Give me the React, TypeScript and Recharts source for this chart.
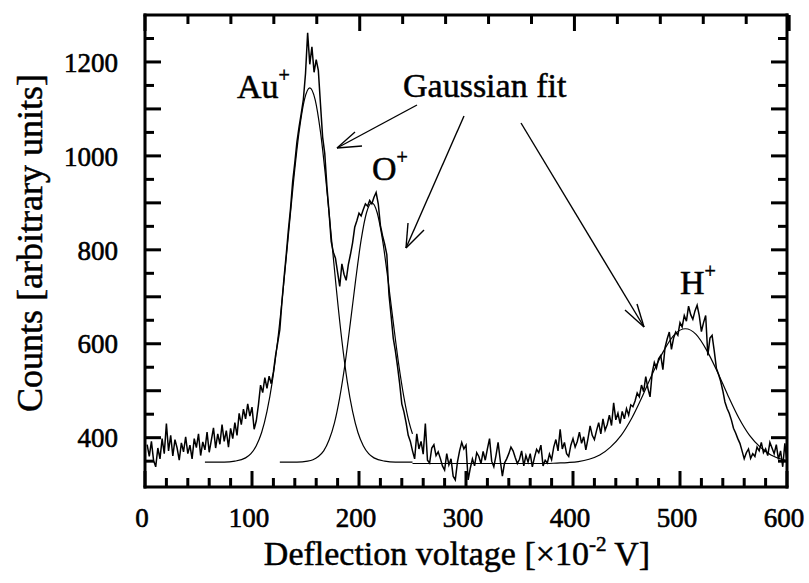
import React from "react";
import { Line, LineChart, XAxis, YAxis } from "recharts";

const WIDTH = 809;
const HEIGHT = 583;
const FONT = "Liberation Serif, Times New Roman, serif";

// measured spectrum, one value per channel; channels every 2 (x10^-2 V) from 2
const channelStart = 2;
const channelStep = 2;
const counts = [
  385, 360, 392, 352, 338, 378, 355, 398, 366, 430, // 2-20
  372, 405, 361, 396, 378, 352, 389, 370, 402, 366, // 22-40
  384, 355, 398, 379, 408, 362, 391, 374, 412, 369, // 42-60
  395, 421, 378, 408, 386, 428, 392, 415, 380, 420, // 62-80
  398, 432, 405, 452, 428, 461, 440, 472, 446, 465, // 82-100
  418, 436, 470, 512, 496, 528, 505, 531, 515, 540, // 102-120
  575, 602, 630, 690, 742, 790, 842, 888, 945, 985, // 122-140
  1030, 1062, 1090, 1120, 1175, 1262, 1195, 1232, 1178, 1205, // 142-160
  1182, 1110, 1040, 1005, 935, 880, 818, 795, 782, 752, // 162-180
  722, 770, 748, 735, 768, 790, 815, 848, 862, 878, // 182-200
  872, 886, 898, 893, 905, 898, 912, 922, 898, 852, // 202-220
  830, 812, 790, 705, 660, 612, 585, 552, 515, 472, // 222-240
  455, 432, 405, 392, 372, 355, 408, 376, 392, 365, // 242-260
  430, 352, 346, 378, 385, 362, 370, 356, 340, 331, // 262-280
  366, 342, 355, 318, 310, 348, 372, 390, 376, 384, // 282-300
  310, 335, 355, 340, 368, 360, 345, 371, 352, 376, // 302-320
  398, 350, 338, 362, 390, 352, 318, 346, 355, 366, // 322-340
  380, 372, 358, 345, 354, 372, 340, 362, 348, 366, // 342-360
  338, 358, 375, 368, 384, 340, 352, 346, 365, 353, // 362-380
  380, 396, 372, 418, 376, 390, 366, 360, 384, 398, // 382-400
  380, 392, 412, 388, 402, 374, 398, 425, 405, 396, // 402-420
  415, 432, 408, 440, 416, 428, 448, 426, 474, 438, // 422-440
  452, 430, 456, 440, 462, 448, 470, 466, 478, 495, // 442-460
  487, 512, 498, 530, 505, 487, 538, 560, 548, 568, // 462-480
  575, 545, 592, 610, 625, 588, 612, 625, 618, 645, // 482-500
  636, 660, 648, 680, 662, 652, 670, 682, 660, 626, // 502-520
  645, 660, 575, 612, 618, 585, 548, 535, 520, 500, // 522-540
  476, 462, 452, 438, 420, 410, 398, 388, 372, 355, // 542-560
  368, 376, 356, 366, 360, 380, 372, 390, 368, 376, // 562-580
  362, 390, 378, 366, 385, 354, 372, 338, 388, 345, // 582-600
];

// Gaussian fit curves
const auFitVoltage = [56, 64, 74, 84, 94, 99, 104, 109, 114, 119, 124, 129, 134, 139, 144, 149, 154,
  159, 164, 169, 174, 179, 184, 189, 194, 199, 204, 209, 214, 224, 234, 250];
const auFitCounts = [348, 348, 348, 350, 357, 366, 383, 411, 456, 520, 607, 713, 831, 950, 1051, 1120, 1145,
  1120, 1051, 950, 831, 713, 607, 520, 456, 411, 383, 366, 357, 350, 348, 348];

const oFitVoltage = [126, 142, 152, 157, 162, 167, 172, 177, 182, 187, 192, 197, 202, 207, 212,
  217, 222, 227, 232, 237, 242, 247, 250];
const oFitCounts = [348, 348, 350, 353, 360, 372, 395, 431, 486, 558, 646, 738, 821, 879, 900,
  879, 821, 738, 646, 558, 486, 431, 408];

const hFitVoltage = [250, 330, 375, 385, 395, 405, 415, 425, 435, 445, 455, 465, 475, 485, 495, 505,
  515, 525, 535, 545, 555, 565, 575, 585, 595, 600];
const hFitCounts = [345, 345, 345, 346, 347, 349, 354, 363, 380, 405, 442, 489, 540, 586, 620, 632,
  620, 586, 540, 489, 442, 405, 380, 363, 354, 351];

const xTicks = [0, 20, 40, 60, 80, 100, 120, 140, 160, 180, 200, 220, 240, 260, 280, 300,
  320, 340, 360, 380, 400, 420, 440, 460, 480, 500, 520, 540, 560, 580, 600];
const xLabelled = [0, 100, 200, 300, 400, 500, 600];
const yTicks = [350, 400, 450, 500, 550, 600, 650, 700, 750, 800, 850, 900, 950, 1000,
  1050, 1100, 1150, 1200, 1250];
const yLabelled = [400, 600, 800, 1000, 1200];

const spectrum = counts.map((c, i) => ({ v: channelStart + i * channelStep, counts: c }));
const zip = (vs: number[], cs: number[]) => vs.map((v, i) => ({ v, fit: cs[i] }));
const auFit = zip(auFitVoltage, auFitCounts);
const oFit = zip(oFitVoltage, oFitCounts);
const hFit = zip(hFitVoltage, hFitCounts);

const MAJOR = 16;
const MINOR = 9;
const axisLine = { stroke: "#000", strokeWidth: 3, strokeLinecap: "square" as const };

// the scanned original has heavy type; a hairline stroke thickens the glyphs a little
function TickLabel({ x, y, anchor, dy, value }: any) {
  return (
    <text
      x={x}
      y={y}
      dy={dy}
      textAnchor={anchor}
      fontFamily={FONT}
      fontSize={27}
      fill="#000"
      stroke="#000"
      strokeWidth={0.6}
    >
      {value}
    </text>
  );
}

function BottomTick({ x, y, payload }: any) {
  const major = payload.value % 100 === 0;
  return (
    <g>
      <line x1={x} x2={x} y1={y} y2={y - (major ? MAJOR : MINOR)} stroke="#000" strokeWidth={3} />
      {xLabelled.includes(payload.value) && (
        <TickLabel x={x - 3} y={y + 40} anchor="middle" value={payload.value} />
      )}
    </g>
  );
}

function TopTick({ x, y, payload }: any) {
  const major = payload.value % 100 === 0;
  return <line x1={x} x2={x} y1={y} y2={y + (major ? MAJOR : MINOR)} stroke="#000" strokeWidth={3} />;
}

function LeftTick({ x, y, payload }: any) {
  const major = payload.value % 100 === 0;
  return (
    <g>
      <line x1={x} x2={x + (major ? MAJOR : MINOR)} y1={y} y2={y} stroke="#000" strokeWidth={3} />
      {yLabelled.includes(payload.value) && (
        <TickLabel x={x - 27} y={y} dy="0.36em" anchor="end" value={payload.value} />
      )}
    </g>
  );
}

function RightTick({ x, y, payload }: any) {
  const major = payload.value % 100 === 0;
  return <line x1={x} x2={x - (major ? MAJOR : MINOR)} y1={y} y2={y} stroke="#000" strokeWidth={3} />;
}

function Arrow({ from, to, arms }: { from: number[]; to: number[]; arms: number[][] }) {
  return (
    <g stroke="#000" strokeWidth={1.4} fill="none">
      <line x1={from[0]} y1={from[1]} x2={to[0]} y2={to[1]} />
      {arms.map((a, i) => (
        <line key={i} x1={to[0]} y1={to[1]} x2={a[0]} y2={a[1]} />
      ))}
    </g>
  );
}

function Overlay() {
  const sup = { fontSize: 20 };
  return (
    <svg
      width={WIDTH}
      height={HEIGHT}
      style={{ position: "absolute", left: 0, top: 0, pointerEvents: "none", fontFamily: FONT }}
      fill="#000"
      stroke="#000"
      strokeWidth={0.5}
    >
      <text transform="translate(42,243) rotate(-90)" textAnchor="middle" fontSize={36}>
        Counts [arbitrary units]
      </text>
      <text x={457} y={565} textAnchor="middle" fontSize={34}>
        Deflection voltage [×10<tspan dy={-14} fontSize={21}>-2</tspan>
        <tspan dy={14}> V]</tspan>
      </text>

      <text x={237} y={98} fontSize={34}>
        Au<tspan dy={-16} {...sup}>+</tspan>
      </text>
      <text x={372} y={180} fontSize={34}>
        O<tspan dy={-16} {...sup}>+</tspan>
      </text>
      <text x={680} y={294} fontSize={34}>
        H<tspan dy={-16} {...sup}>+</tspan>
      </text>
      <text x={403} y={97} fontSize={34}>
        Gaussian fit
      </text>

      <Arrow from={[417, 105]} to={[337, 148]} arms={[[355, 132], [362, 146]]} />
      <Arrow from={[464, 116]} to={[406, 248]} arms={[[408, 223], [424, 230]]} />
      <Arrow from={[521, 123]} to={[644, 327]} arms={[[625, 310], [637, 304]]} />
    </svg>
  );
}

export default function App() {
  return (
    <div style={{ position: "absolute", left: 0, top: 0, width: WIDTH, height: HEIGHT, background: "#fff", fontFamily: FONT }}>
      <LineChart width={WIDTH} height={HEIGHT} data={spectrum} margin={{ top: 0, right: 0, bottom: 0, left: 0 }}>
        <XAxis
          dataKey="v"
          type="number"
          domain={[0, 600]}
          ticks={xTicks}
          interval={0}
          height={96}
          tickSize={0}
          tickMargin={0}
          axisLine={axisLine}
          tick={BottomTick}
          allowDataOverflow
        />
        <XAxis
          xAxisId="top"
          orientation="top"
          type="number"
          domain={[0, 600]}
          ticks={xTicks}
          interval={0}
          height={15}
          tickSize={0}
          tickMargin={0}
          axisLine={axisLine}
          tick={TopTick}
          allowDataOverflow
        />
        <YAxis
          type="number"
          domain={[295, 1300]}
          ticks={yTicks}
          interval={0}
          width={145}
          tickSize={0}
          tickMargin={0}
          axisLine={axisLine}
          tick={LeftTick}
          allowDataOverflow
        />
        <YAxis
          yAxisId="right"
          orientation="right"
          type="number"
          domain={[295, 1300]}
          ticks={yTicks}
          interval={0}
          width={22}
          tickSize={0}
          tickMargin={0}
          axisLine={axisLine}
          tick={RightTick}
          allowDataOverflow
        />
        <Line dataKey="counts" stroke="#000" strokeWidth={1.5} dot={false} type="linear" isAnimationActive={false} />
        <Line data={auFit} dataKey="fit" stroke="#000" strokeWidth={1.2} dot={false} type="monotone" isAnimationActive={false} />
        <Line data={oFit} dataKey="fit" stroke="#000" strokeWidth={1.2} dot={false} type="monotone" isAnimationActive={false} />
        <Line data={hFit} dataKey="fit" stroke="#000" strokeWidth={1.2} dot={false} type="monotone" isAnimationActive={false} />
      </LineChart>
      <Overlay />
    </div>
  );
}
